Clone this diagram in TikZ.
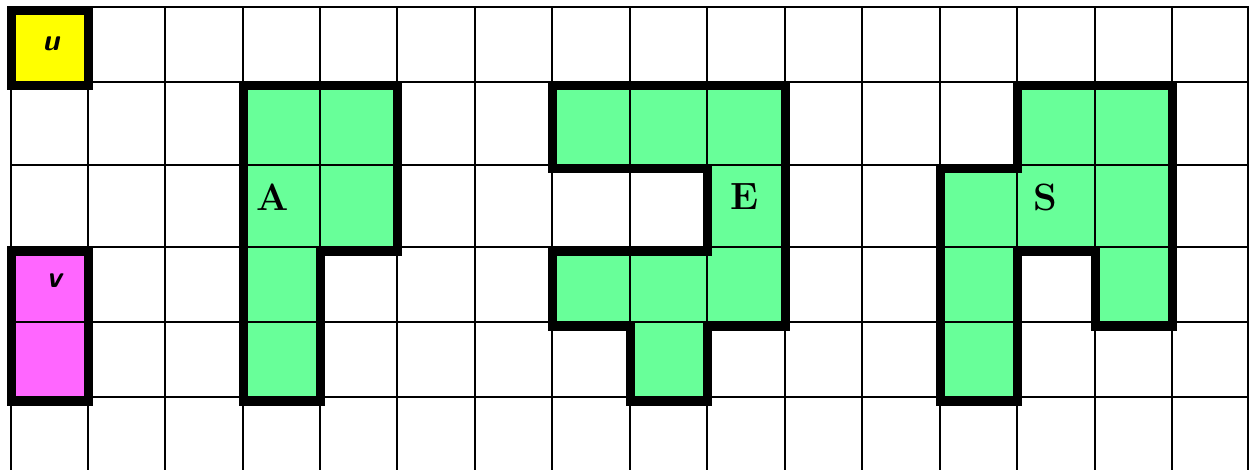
\documentclass[tikz,border=0pt]{standalone}
\definecolor{cellgreen}{RGB}{104,255,153}
\definecolor{cellyellow}{RGB}{255,255,0}
\definecolor{cellmagenta}{RGB}{255,102,255}
\begin{document}
\begin{tikzpicture}[x=1pt,y=-1pt,
  gridline/.style={line width=2.8pt,black},
  outline/.style={line width=9pt,line join=miter,black},
  lettr/.style={font=\fontsize{38}{38}\selectfont\bfseries,inner sep=0pt},
  varlab/.style={font=\fontsize{30}{30}\selectfont\sffamily\bfseries\itshape,inner sep=0pt}]
\useasboundingbox[fill=white] (0,0) rectangle (1249,470);
% fills
\fill[cellyellow] (11,11) rectangle (88,86);
\fill[cellmagenta] (11,251) rectangle (88,401);
\fill[cellgreen] (243,86)--(397,86)--(397,251)--(320,251)--(320,401)--(243,401)--cycle;
\fill[cellgreen] (552,86)--(785,86)--(785,326)--(707,326)--(707,401)--(630,401)--(630,326)--(552,326)--(552,251)--(707,251)--(707,169)--(552,169)--cycle;
\fill[cellgreen] (1017,86)--(1172,86)--(1172,326)--(1095,326)--(1095,251)--(1017,251)--(1017,401)--(940,401)--(940,169)--(1017,169)--cycle;
% grid
\foreach \x in {11,88,165,243,320,397,475,552,630,707,785,862,940,1017,1095,1172,1248}
  \draw[gridline] (\x,7) -- (\x,470);
\foreach \y in {7,82,165,247,322,397}
  \draw[gridline] (11,\y) -- (1249,\y);
% outlines
\draw[outline] (11,11) rectangle (88,86);
\draw[outline] (11,251) rectangle (88,401);
\draw[outline] (243,86)--(397,86)--(397,251)--(320,251)--(320,401)--(243,401)--cycle;
\draw[outline] (552,86)--(785,86)--(785,326)--(707,326)--(707,401)--(630,401)--(630,326)--(552,326)--(552,251)--(707,251)--(707,169)--(552,169)--cycle;
\draw[outline] (1017,86)--(1172,86)--(1172,326)--(1095,326)--(1095,251)--(1017,251)--(1017,401)--(940,401)--(940,169)--(1017,169)--cycle;
% labels
\node[varlab] (u) at (51,44) {u};
\node[varlab] (v) at (54,281) {v};
\node[lettr] (A) at (273,197) {A};
\node[lettr] (E) at (745,197) {E};
\node[lettr] (S) at (1045,197) {S};
\end{tikzpicture}
\end{document}
